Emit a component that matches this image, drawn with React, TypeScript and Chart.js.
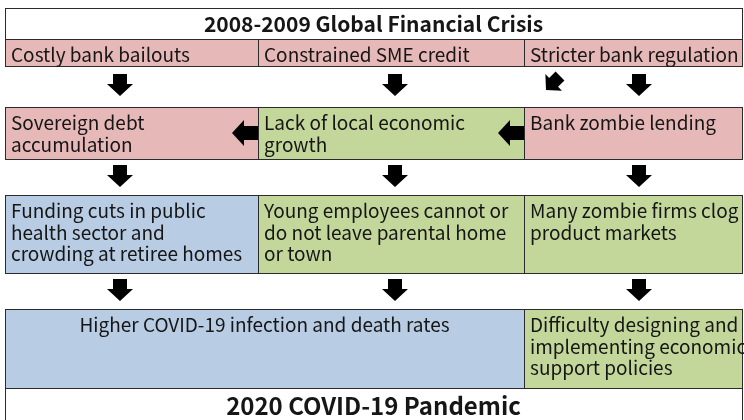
import React, { useEffect, useRef } from "react";
import { Chart, registerables } from "chart.js";
Chart.register(...registerables);

// Grid structure (diagram units = scale units)
const colEdges = [5, 258, 524, 742];
const rowTops = [8, 39, 107, 195, 309, 388];
const rowBottoms = [39, 66, 159, 273, 388, 426];

// Boxes
const boxLabels = [
  ["2008-2009 Global Financial Crisis"],
  ["Costly bank bailouts"],
  ["Constrained SME credit"],
  ["Stricter bank regulation"],
  ["Sovereign debt", "accumulation"],
  ["Lack of local economic", "growth"],
  ["Bank zombie lending"],
  ["Funding cuts in public", "health sector and", "crowding at retiree homes"],
  ["Young employees cannot or", "do not leave parental home", "or town"],
  ["Many zombie firms clog", "product markets"],
  ["Higher COVID-19 infection and death rates"],
  ["Difficulty designing and", "implementing economic", "support policies"],
  ["2020 COVID-19 Pandemic"],
];
const boxRow = [0, 1, 1, 1, 2, 2, 2, 3, 3, 3, 4, 4, 5];
const boxColStart = [0, 0, 1, 2, 0, 1, 2, 0, 1, 2, 0, 2, 0];
const boxColEnd = [3, 1, 2, 3, 1, 2, 3, 1, 2, 3, 2, 3, 3];
const boxKind = ["title", "pink", "pink", "pink", "pink", "green", "pink", "blue", "green", "green", "blueCenter", "green", "title"];

// Arrows: center x, center y, direction angle (deg, 0 = down)
const arrowX = [120, 395, 553, 639, 245, 511, 120, 395, 639, 120, 395, 639];
const arrowY = [85, 85, 83, 85, 133, 133, 176, 176, 176, 290, 290, 290];
const arrowAngle = [0, 0, 45, 0, 90, 90, 0, 0, 0, 0, 0, 0];
const arrowScale = [1, 1, 0.9, 1, 1, 1, 1, 1, 1, 1, 1, 1];

const COLORS: Record<string, string> = {
  title: "#ffffff",
  pink: "#E6B8B7",
  green: "#C4D79B",
  blue: "#B8CCE4",
  blueCenter: "#B8CCE4",
};

const FONT = '"Noto Sans CJK SC", "Noto Sans", sans-serif';

const diagramPlugin = {
  id: "diagram",
  afterDraw(chart: any) {
    const ctx = chart.ctx as CanvasRenderingContext2D;
    const xs = chart.scales.x;
    const ys = chart.scales.y;
    const px = (v: number) => xs.getPixelForValue(v);
    const py = (v: number) => ys.getPixelForValue(v);
    ctx.save();
    // boxes
    for (let i = 0; i < boxLabels.length; i++) {
      const x0 = Math.round(px(colEdges[boxColStart[i]])) + 0.5;
      const x1 = Math.round(px(colEdges[boxColEnd[i]])) + 0.5;
      const y0 = Math.round(py(rowTops[boxRow[i]])) + 0.5;
      const y1 = Math.round(py(rowBottoms[boxRow[i]])) + 0.5;
      ctx.fillStyle = COLORS[boxKind[i]];
      ctx.fillRect(x0, y0, x1 - x0, y1 - y0);
      ctx.strokeStyle = "#2b2b2b";
      ctx.lineWidth = 1;
      ctx.strokeRect(x0, y0, x1 - x0, y1 - y0);
    }
    // text
    ctx.textBaseline = "middle";
    ctx.fillStyle = "#161616";
    for (let i = 0; i < boxLabels.length; i++) {
      const kind = boxKind[i];
      const x0 = px(colEdges[boxColStart[i]]);
      const x1 = px(colEdges[boxColEnd[i]]);
      const y0 = py(rowTops[boxRow[i]]);
      const y1 = py(rowBottoms[boxRow[i]]);
      if (kind === "title") {
        const first = boxRow[i] === 0;
        ctx.font = `bold ${first ? 21 : 24}px ${FONT}`;
        ctx.textAlign = "center";
        const cy = first ? (y0 + y1) / 2 + 1 : y0 + 18;
        ctx.fillText(boxLabels[i][0], (x0 + x1) / 2, cy);
      } else {
        ctx.font = `19px ${FONT}`;
        const lines = boxLabels[i];
        if (kind === "blueCenter") {
          ctx.textAlign = "center";
          lines.forEach((l, k) => ctx.fillText(l, (x0 + x1) / 2, y0 + 16 + k * 21.5));
        } else {
          ctx.textAlign = "left";
          lines.forEach((l, k) => ctx.fillText(l, x0 + 6, y0 + 16 + k * 21.5));
        }
      }
    }
    // arrows
    ctx.fillStyle = "#000000";
    for (let i = 0; i < arrowX.length; i++) {
      const cx = px(arrowX[i]);
      const cy = py(arrowY[i]);
      const s = arrowScale[i];
      ctx.save();
      ctx.translate(cx, cy);
      ctx.rotate((arrowAngle[i] * Math.PI) / 180);
      ctx.scale(s, s);
      const L = arrowAngle[i] === 90 ? 26 : 22;
      const hl = 12;
      const sw = 7;
      const hw = 13;
      const top = -L / 2;
      const tip = L / 2;
      ctx.beginPath();
      ctx.moveTo(-sw, top);
      ctx.lineTo(sw, top);
      ctx.lineTo(sw, tip - hl);
      ctx.lineTo(hw, tip - hl);
      ctx.lineTo(0, tip);
      ctx.lineTo(-hw, tip - hl);
      ctx.lineTo(-sw, tip - hl);
      ctx.closePath();
      ctx.fill();
      ctx.restore();
    }
    ctx.restore();
  },
};

export default function App() {
  const ref = useRef<HTMLCanvasElement | null>(null);
  useEffect(() => {
    document.body.style.margin = "0";
    const canvas = ref.current!;
    const chart = new Chart(canvas, {
      type: "scatter",
      data: { datasets: [{ data: [], pointRadius: 0 }] },
      options: {
        animation: false,
        responsive: false,
        maintainAspectRatio: false,
        layout: { padding: 0 },
        plugins: { legend: { display: false }, tooltip: { enabled: false } },
        scales: {
          x: { type: "linear", min: 0, max: 744, display: false },
          y: { type: "linear", min: 0, max: 420, reverse: true, display: false },
        },
      },
      plugins: [diagramPlugin],
    });
    return () => chart.destroy();
  }, []);
  return (
    <div style={{ width: 744, height: 420, background: "#fff" }}>
      <canvas ref={ref} width={744} height={420} style={{ display: "block" }} />
    </div>
  );
}
